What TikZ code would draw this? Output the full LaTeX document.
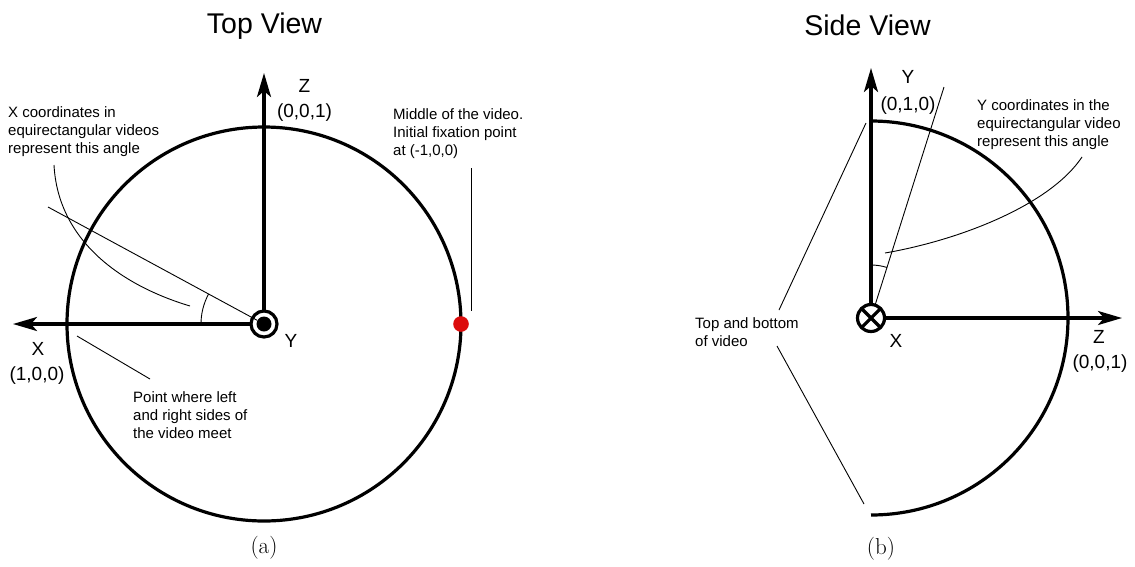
\documentclass[tikz,border=0pt]{standalone}
\usepackage{fontspec}
\newfontfamily\helv{Liberation Sans}
\usetikzlibrary{arrows.meta}
\definecolor{fixred}{RGB}{220,12,12}

\begin{document}
\begin{tikzpicture}[x=1pt,y=-1pt,
  heavy/.style={line width=3.2pt},
  leader/.style={line width=0.9pt},
  axis/.style={heavy,-{Stealth[length=24pt,width=14pt,inset=6pt]}},
  note/.style={font=\helv\fontsize{15}{18}\selectfont,align=left,anchor=north west,inner sep=0pt},
  axlabel/.style={font=\helv\fontsize{19}{23}\selectfont,anchor=base,inner sep=0pt},
  viewtitle/.style={font=\helv\fontsize{28.5}{34}\selectfont,anchor=base,inner sep=0pt},
  subcap/.style={font=\fontsize{23}{27}\selectfont,inner sep=0pt},
  marker/.style={circle,draw,heavy,inner sep=0pt,outer sep=0pt}
]
\useasboundingbox (0,0) rectangle (1135,566);

% ---------------- (a) top view ----------------
\coordinate (c1) at (264,324);
\node[viewtitle] (ttop) at (264.5,33) {Top View};

\draw[heavy] (c1) circle[radius=197];

% Y axis pointing out of the page
\node[marker,minimum size=26pt] (ring) at (c1) {};
\fill (c1) circle[radius=7.5];

\coordinate (ztip) at (264,73);
\coordinate (xtip) at (13,324);
\draw[axis] (ring.north) -- (ztip);
\draw[axis] (ring.west) -- (xtip);

\node[axlabel] (zl) at (304.5,92) {Z};
\node[axlabel] (zc) at (304.5,117) {(0,0,1)};
\node[axlabel] (xl) at (38,355) {X};
\node[axlabel] (xc) at (37,380) {(1,0,0)};
\node[axlabel] (yl) at (291,347) {Y};

% fixation point
\node[circle,fill=fixred,minimum size=15.6pt,inner sep=0pt] (mid) at (461,324) {};

% longitude angle
\coordinate (rayend) at (48,207);
\draw[leader] (c1) ++(208.4:8) -- (rayend);
\draw[leader] (c1) ++(180:63) arc[start angle=180,end angle=208.4,radius=63];

% annotations
\node[note] (xnote) at (8,106.1) {X coordinates in\\equirectangular videos\\represent this angle};
\coordinate (xn1) at (54,165);
\coordinate (xn2) at (190,306);
\draw[leader] (xn1) .. controls (58,240) and (120,285) .. (xn2);

\node[note] (midnote) at (393,108.1) {Middle of the video.\\Initial fixation point\\at (-1,0,0)};
\coordinate (mn1) at (471,168);
\coordinate (mn2) at (471,311);
\draw[leader] (mn1) -- (mn2);

\node[note] (seam) at (133,391.1) {Point where left\\and right sides of\\the video meet};
\coordinate (sn1) at (77,336);
\coordinate (sn2) at (150,379);
\draw[leader] (sn1) -- (sn2);

\node[subcap] (capa) at (264,548) {(a)};

% ---------------- (b) side view ----------------
\coordinate (c2) at (871,318);
\node[viewtitle] (tside) at (867.5,35) {Side View};

\draw[heavy] (871,121) arc[start angle=-90,end angle=90,radius=197];

% X axis pointing into the page
\node[marker,minimum size=27pt] (otimes) at (c2) {};
\draw[heavy] (otimes.north west) -- (otimes.south east);
\draw[heavy] (otimes.north east) -- (otimes.south west);

\coordinate (ytip) at (871,68);
\coordinate (ztip2) at (1122,318);
\draw[axis] (otimes.north) -- (ytip);
\draw[axis] (otimes.east) -- (ztip2);

\node[axlabel] (yl2) at (908,83) {Y};
\node[axlabel] (yc2) at (908,110) {(0,1,0)};
\node[axlabel] (xl2) at (896,347) {X};
\node[axlabel] (zl2) at (1099,343) {Z};
\node[axlabel] (zc2) at (1100,368) {(0,0,1)};

% latitude angle
\coordinate (ray2end) at (944,87);
\draw[leader] (c2) ++(-72.5:14) -- (ray2end);
\draw[leader] (c2) ++(-90:53) arc[start angle=-90,end angle=-72.5,radius=53];

% annotations
\node[note] (ynote) at (977,99.1) {Y coordinates in the\\equirectangular video\\represent this angle};
\coordinate (yn1) at (1082,157);
\coordinate (yn2) at (885,253);
\draw[leader] (yn1) .. controls (1050,205) and (960,240) .. (yn2);

\node[note] (tbnote) at (695,317.1) {Top and bottom\\of video};
\coordinate (tb1) at (779,310);
\coordinate (tb2) at (866,123);
\coordinate (tb3) at (777,346);
\coordinate (tb4) at (864,504);
\draw[leader] (tb1) -- (tb2);
\draw[leader] (tb3) -- (tb4);

\node[subcap] (capb) at (881,549) {(b)};
\end{tikzpicture}
\end{document}
